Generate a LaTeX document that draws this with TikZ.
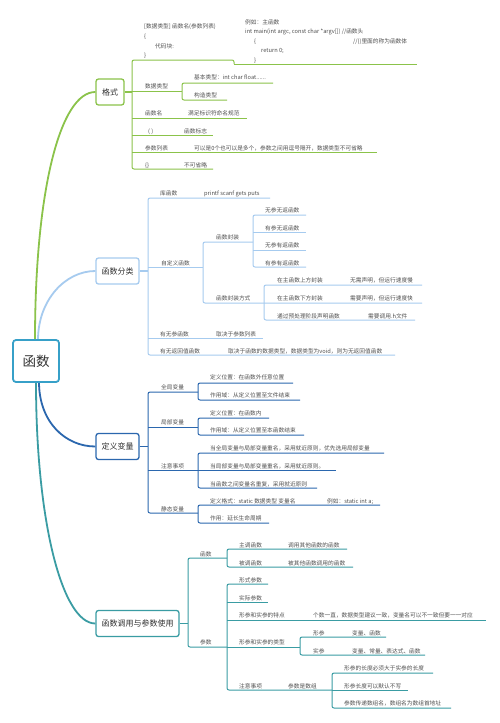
\documentclass[tikz,border=0pt]{standalone}
\usepackage{fontspec}
\setmainfont{Noto Sans CJK SC}
\definecolor{txt}{RGB}{80,80,80}
\definecolor{btxt}{RGB}{50,50,50}
\definecolor{cg}{RGB}{139,195,74}
\definecolor{clb}{RGB}{166,203,239}
\definecolor{cdb}{RGB}{43,103,174}
\definecolor{ct}{RGB}{58,156,163}
\definecolor{croot}{RGB}{55,160,200}
\begin{document}
\begin{tikzpicture}[x=1pt,y=-1pt,
  t/.style={anchor=west, inner sep=0pt, text height=0.85em, text depth=0.15em, font=\fontsize{5.7}{6.5}\selectfont, text=txt},
  box/.style={draw, rounded corners=2.5pt, line width=1.3pt, fill=white, font=\fontsize{8}{9}\selectfont, text=btxt, minimum height=26pt, inner sep=0pt},
  rootbox/.style={draw=croot, rounded corners=3pt, line width=1.8pt, fill=white, font=\fontsize{13.5}{15}\selectfont, text=btxt, minimum width=46pt, minimum height=42pt, inner sep=0pt},
  main/.style={line width=1.8pt},
  ln/.style={line width=1pt, rounded corners=2pt},
  gl/.style={ln, draw=cg},
  bl/.style={ln, draw=clb},
  dl/.style={ln, draw=cdb},
  tl/.style={ln, draw=ct},
  con/.style={line width=1.3pt}
]
\useasboundingbox[fill=white] (0,0) rectangle (500,723);

% ---------- main boxes ----------
\node[box, draw=cg, minimum width=28pt] (gs) at (110,92) {格式};
\node[box, draw=clb, minimum width=43pt] (fl) at (117.5,271) {函数分类};
\node[box, draw=cdb, minimum width=43pt] (dy) at (117.5,446.5) {定义变量};
\node[box, draw=ct, minimum width=83pt] (dc) at (137.5,623.5) {函数调用与参数使用};

% ---------- root curves ----------
\coordinate (rn1) at (35,340);
\coordinate (rn2) at (38,340);
\coordinate (rs1) at (39,382);
\coordinate (rs2) at (36,382);
\draw[main, cg] (rn1) .. controls +(0,-150) and +(-35,0) .. (gs.west);
\draw[main, clb] (rn2) .. controls +(0,-40) and +(-30,0) .. (fl.west);
\draw[main, cdb] (rs1) .. controls +(0,40) and +(-30,0) .. (dy.west);
\draw[main, ct] (rs2) .. controls +(0,140) and +(-33,0) .. (dc.west);
\node[rootbox] (root) at (36,361) {函数};

% ---------- 格式 ----------
\coordinate (gb) at (132,92);
\draw[con, cg] (gs.east) -- (gb);
\draw[gl] (234,64) -- (234,60) -- (132,60) -- (132,169) -- (213,169);
\draw[gl] (234,64) -- (417,64);
\draw[gl] (132,91) -- (182,91);
\draw[gl] (273,83) -- (182,83) -- (182,100) -- (227,100);
\draw[gl] (132,118) -- (247,118);
\draw[gl] (132,135) -- (213,135);
\draw[gl] (132,152) -- (377,152);

\node[t] (g1) at (144,25) {[数据类型] 函数名(参数列表)};
\node[t] (g2) at (144,35) {\{};
\node[t] (g3) at (155,45) {代码块:};
\node[t] (g4) at (144,54) {\}};
\node[t] (g5) at (245,21) {例如：主函数};
\node[t] (g6) at (245,30) {int main(int argc, const char *argv[]) //函数头};
\node[t] (g7) at (254,40) {\{};
\node[t] (g8) at (353,40) {//()里面的称为函数体};
\node[t] (g9) at (261,49) {return 0;};
\node[t] (g10) at (254,59) {\}};
\node[t] (g11) at (145,85) {数据类型};
\node[t] (g12) at (194,76) {基本类型：int char float......};
\node[t] (g13) at (194,94) {构造类型};
\node[t] (g14) at (145,112) {函数名};
\node[t] (g15) at (188,112) {满足标识符命名规范};
\node[t] (g16) at (148,130) {( )};
\node[t] (g17) at (184,130) {函数标志};
\node[t] (g18) at (145,147) {参数列表};
\node[t] (g19) at (194,147) {可以是0个也可以是多个，参数之间用逗号隔开，数据类型不可省略};
\node[t] (g20) at (145,164) {\{\}};
\node[t] (g21) at (184,164) {不可省略};

% ---------- 函数分类 ----------
\coordinate (fb) at (148,271);
\draw[con, clb] (fl.east) -- (fb);
\draw[bl] (270,198) -- (148,198) -- (148,355) -- (395,355);
\draw[bl] (148,267.5) -- (203,267.5);
\draw[bl] (253,242) -- (203,242) -- (203,303) -- (422,303);
\draw[bl] (306,215) -- (253,215) -- (253,267) -- (306,267);
\draw[bl] (253,232) -- (306,232);
\draw[bl] (253,250) -- (306,250);
\draw[bl] (422,285) -- (264,285) -- (264,320) -- (415,320);
\draw[bl] (148,338) -- (263,338);

\node[t] (f1) at (160,192) {库函数};
\node[t] (f2) at (204,192) {printf scanf gets puts};
\node[t] (f3) at (161,262) {自定义函数};
\node[t] (f4) at (216,236) {函数封装};
\node[t] (f5) at (265,209) {无参无返函数};
\node[t] (f6) at (265,227) {有参无返函数};
\node[t] (f7) at (265,244) {无参有返函数};
\node[t] (f8) at (265,262) {有参有返函数};
\node[t] (f9) at (216,297) {函数封装方式};
\node[t] (f10) at (277,279) {在主函数上方封装};
\node[t] (f11) at (350,279) {无需声明，但运行速度慢};
\node[t] (f12) at (277,297) {在主函数下方封装};
\node[t] (f13) at (350,297) {需要声明，但运行速度快};
\node[t] (f14) at (277,315) {通过预处理阶段声明函数};
\node[t] (f15) at (368,315) {需要调用.h文件};
\node[t] (f16) at (160,333) {有无参函数};
\node[t] (f17) at (216,333) {取决于参数列表};
\node[t] (f18) at (160,350) {有无返回值函数};
\node[t] (f19) at (228,350) {取决于函数的数据类型，数据类型为void，则为无返回值函数};

% ---------- 定义变量 ----------
\coordinate (db) at (148,446.5);
\draw[con, cdb] (dy.east) -- (db);
\draw[dl] (198,392) -- (148,392) -- (148,513) -- (198,513);
\draw[dl] (148,427) -- (198,427);
\draw[dl] (148,470) -- (198,470);
\draw[dl] (293,383) -- (198,383) -- (198,400) -- (300,400);
\draw[dl] (269,418) -- (198,418) -- (198,435) -- (304,435);
\draw[dl] (384,453) -- (198,453) -- (198,488) -- (317,488);
\draw[dl] (198,470) -- (336,470);
\draw[dl] (380,505) -- (198,505) -- (198,523) -- (269,523);

\node[t] (d1) at (161,386) {全局变量};
\node[t] (d2) at (210,376) {定义位置：在函数外任意位置};
\node[t] (d3) at (210,394) {作用域：从定义位置至文件结束};
\node[t] (d4) at (161,421) {局部变量};
\node[t] (d5) at (210,412) {定义位置：在函数内};
\node[t] (d6) at (210,429) {作用域：从定义位置至本函数结束};
\node[t] (d7) at (161,465) {注意事项};
\node[t] (d8) at (210,447) {当全局变量与局部变量重名，采用就近原则，优先选用局部变量};
\node[t] (d9) at (210,465) {当局部变量与局部变量重名，采用就近原则。};
\node[t] (d10) at (210,483) {当函数之间变量名重复，采用就近原则};
\node[t] (d11) at (161,508) {静态变量};
\node[t] (d12) at (210,500) {定义格式：static 数据类型 变量名};
\node[t] (d13) at (327,500) {例如：static int a;};
\node[t] (d14) at (210,517) {作用：延长生命周期};

% ---------- 函数调用与参数使用 ----------
\coordinate (cb) at (188,623.5);
\draw[con, ct] (dc.east) -- (cb);
\draw[tl] (227,558) -- (188,558) -- (188,647) -- (227,647);
\draw[tl] (347,549) -- (227,549) -- (227,567) -- (353,567);
\draw[tl] (268,584) -- (227,584) -- (227,690) -- (332,690);
\draw[tl] (227,602) -- (268,602);
\draw[tl] (227,620) -- (486,620);
\draw[tl] (227,647) -- (300,647);
\draw[tl] (386,637) -- (300,637) -- (300,655) -- (425,655);
\draw[tl] (433,673) -- (332,673) -- (332,708) -- (451,708);
\draw[tl] (332,690) -- (408,690);

\node[t] (c1) at (200,553) {函数};
\node[t] (c2) at (239,544) {主调函数};
\node[t] (c3) at (288,544) {调用其他函数的函数};
\node[t] (c4) at (239,562) {被调函数};
\node[t] (c5) at (288,562) {被其他函数调用的函数};
\node[t] (c6) at (200,641) {参数};
\node[t] (c7) at (239,579) {形式参数};
\node[t] (c8) at (239,597) {实际参数};
\node[t] (c9) at (239,614) {形参和实参的特点};
\node[t] (c10) at (313,614) {个数一直，数据类型建议一致，变量名可以不一致但要一一对应};
\node[t] (c11) at (239,641) {形参和实参的类型};
\node[t] (c12) at (313,632) {形参};
\node[t] (c13) at (352,632) {变量、函数};
\node[t] (c14) at (313,650) {实参};
\node[t] (c15) at (352,650) {变量、常量、表达式、函数};
\node[t] (c16) at (239,685) {注意事项};
\node[t] (c17) at (288,685) {参数是数组};
\node[t] (c18) at (344,667) {形参的长度必须大于实参的长度};
\node[t] (c19) at (344,685) {形参长度可以默认不写};
\node[t] (c20) at (344,702) {参数传递数组名，数组名为数组首地址};
\end{tikzpicture}
\end{document}
